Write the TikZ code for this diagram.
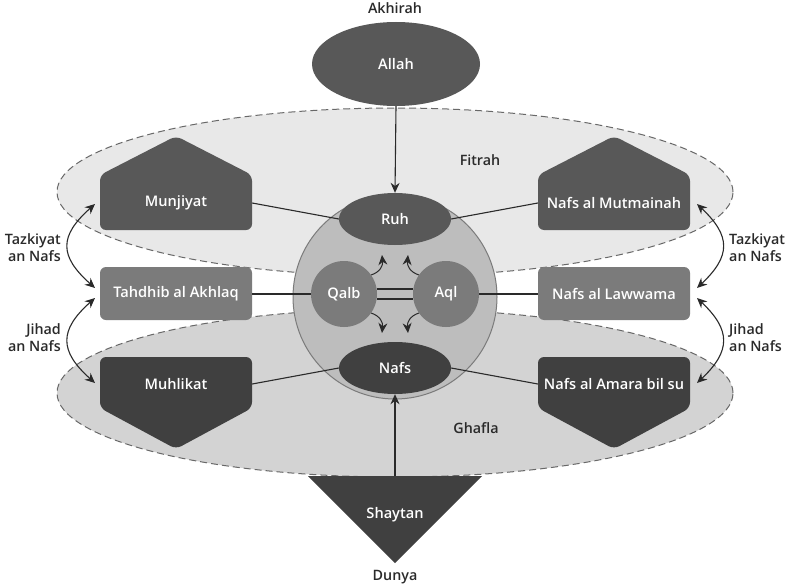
\documentclass[tikz,border=0pt]{standalone}
\usepackage{fontspec}
\setmainfont{Open Sans}[BoldFont={* Semibold}]
\usetikzlibrary{arrows.meta,shapes.geometric}
\definecolor{darkA}{HTML}{585858}
\definecolor{darkB}{HTML}{404040}
\definecolor{midC}{HTML}{7B7B7B}
\definecolor{circC}{HTML}{BDBDBD}
\definecolor{topBG}{HTML}{E8E8E8}
\definecolor{botBG}{HTML}{D3D3D3}
\definecolor{zoneline}{HTML}{686868}
\definecolor{inkC}{HTML}{2A2A2A}
\begin{document}
\begin{tikzpicture}[x=1pt,y=-1pt,
  lbl/.style={font=\bfseries\fontsize{14.6}{17}\selectfont, text=white, inner sep=0pt},
  outlbl/.style={font=\bfseries\fontsize{14.3}{17}\selectfont, text=inkC, inner sep=0pt},
  zone/.style={ellipse, draw=zoneline, dashed, dash pattern=on 7pt off 4pt, line width=1pt, inner sep=0pt},
  oval/.style={ellipse, inner sep=0pt, font=\bfseries\fontsize{14.6}{17}\selectfont, text=white},
  roundc/.style={circle, inner sep=0pt, font=\bfseries\fontsize{14.6}{17}\selectfont, text=white},
  boxarea/.style={rectangle, minimum width=152pt, minimum height=50pt, inner sep=0pt, font=\bfseries\fontsize{14.6}{17}\selectfont, text=white},
  conn/.style={draw=inkC, line width=1.1pt},
  arr/.style={draw=inkC, line width=1.1pt, -{Stealth[length=10pt,width=9pt]}},
  darr/.style={draw=inkC, line width=1.1pt, {Stealth[length=10pt,width=9pt]}-{Stealth[length=10pt,width=9pt]}},
  shape6/.style={rounded corners=6pt}
]
\useasboundingbox (0,0) rectangle (789,586);
\fill[white] (0,0) rectangle (789,586);

% zones
\node[zone, fill=topBG, minimum width=676pt, minimum height=168pt] (fitrahzone) at (395,192) {};
\node[zone, fill=botBG, minimum width=676pt, minimum height=168pt] (ghaflazone) at (395,393) {};

% Shaytan triangle
\fill[darkB] (308,476) -- (482,476) -- (395,563) -- cycle;
\coordinate (shaytop) at (395,476);
\node[lbl] (shay) at (395,515) {Shaytan};

% big circle
\node[circle, draw=midC, line width=1pt, fill=circC, minimum size=204pt, inner sep=0pt] (soul) at (395,297) {};

% inner nodes
\node[oval, fill=darkA, minimum width=168pt, minimum height=84pt] (allah) at (396,64) {Allah};
\node[oval, fill=darkA, minimum width=112pt, minimum height=52pt] (ruh) at (395,219) {Ruh};
\node[oval, fill=darkB, minimum width=112pt, minimum height=52pt] (nafs) at (395,368) {Nafs};
\node[roundc, fill=midC, minimum size=66pt] (qalb) at (344,294) {Qalb};
\node[roundc, fill=midC, minimum size=66pt] (aql) at (446,294) {Aql};

% double link qalb-aql
\draw[conn] ([yshift=-5pt]qalb.east) -- ([yshift=-5pt]aql.west);
\draw[conn] ([yshift=5pt]qalb.east) -- ([yshift=5pt]aql.west);

% houses
\fill[darkA, shape6] (100,230) -- (100,175) -- (176,136) -- (252,175) -- (252,230) -- cycle;
\fill[darkA, shape6] (538,230) -- (538,175) -- (614,136) -- (690,175) -- (690,230) -- cycle;
\fill[midC, rounded corners=6pt] (100,267) rectangle (252,320);
\fill[midC, rounded corners=6pt] (538,267) rectangle (690,320);
\fill[darkB, shape6] (100,357) -- (252,357) -- (252,408) -- (176,449) -- (100,408) -- cycle;
\fill[darkB, shape6] (538,357) -- (690,357) -- (690,408) -- (614,449) -- (538,408) -- cycle;

\node[boxarea] (munj) at (176,203) {Munjiyat};
\node[boxarea] (mutm) at (614,203) {Nafs al Mutmainah};
\node[boxarea] (tahd) at (176,294) {Tahdhib al Akhlaq};
\node[boxarea] (laww) at (614,294) {Nafs al Lawwama};
\node[boxarea] (muhl) at (176,384) {Muhlikat};
\node[boxarea] (amar) at (614,384) {Nafs al Amara bil su};

% connectors
\draw[conn] (munj.east) -- (ruh.west);
\draw[conn] (mutm.west) -- (ruh.east);
\draw[conn] (tahd.east) -- (qalb.west);
\draw[conn] (laww.west) -- (aql.east);
\draw[conn] (muhl.east) -- (nafs.west);
\draw[conn] (amar.west) -- (nafs.east);
\draw[arr] (allah.south) -- (ruh.north);
\draw[arr] (shaytop) -- (nafs.south);

% inner curved arrows
\coordinate (ul) at (382,255);
\coordinate (ur) at (408,255);
\coordinate (dl) at (382,333);
\coordinate (dr) at (408,333);
\draw[arr, line width=1pt] (qalb.35) .. controls (380,272) and (383,266) .. (ul);
\draw[arr, line width=1pt] (aql.145) .. controls (410,272) and (407,266) .. (ur);
\draw[arr, line width=1pt] (qalb.-35) .. controls (380,316) and (383,322) .. (dl);
\draw[arr, line width=1pt] (aql.-145) .. controls (410,316) and (407,322) .. (dr);

% side curved arrows
\coordinate (lt1) at (95,204);
\coordinate (lt2) at (95,288);
\coordinate (lt3) at (95,298);
\coordinate (lt4) at (95,383);
\coordinate (rt1) at (697,204);
\coordinate (rt2) at (697,288);
\coordinate (rt3) at (697,298);
\coordinate (rt4) at (697,383);
\draw[darr] (lt1) .. controls (59,236) and (59,256) .. (lt2);
\draw[darr] (lt3) .. controls (59,330) and (59,351) .. (lt4);
\draw[darr] (rt1) .. controls (731,236) and (731,256) .. (rt2);
\draw[darr] (rt3) .. controls (731,330) and (731,351) .. (rt4);

% labels
\node[outlbl, align=right, anchor=east] (tzl) at (61,248) {Tazkiyat\\an Nafs};
\node[outlbl, align=right, anchor=east] (jhl) at (61,338) {Jihad\\an Nafs};
\node[outlbl, align=left, anchor=west] (tzr) at (729,248) {Tazkiyat\\an Nafs};
\node[outlbl, align=left, anchor=west] (jhr) at (729,338) {Jihad\\an Nafs};
\node[outlbl] (akh) at (395,8) {Akhirah};
\node[outlbl] (dun) at (395,577) {Dunya};
\node[outlbl] (fit) at (480,160) {Fitrah};
\node[outlbl] (gha) at (476,428) {Ghafla};
\end{tikzpicture}
\end{document}
